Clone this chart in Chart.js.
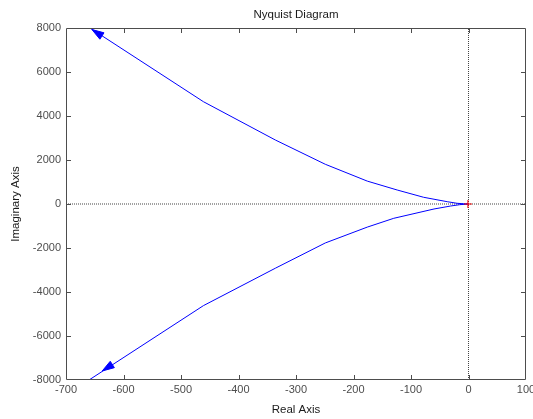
<!DOCTYPE html>
<html>
<head>
<meta charset="utf-8">
<script src="https://cdn.jsdelivr.net/npm/chart.js@4/dist/chart.umd.min.js"></script>
<style>
  html, body { margin: 0; padding: 0; background: #ffffff; }
  #wrap { width: 533px; height: 419px; }
</style>
</head>
<body>
<div id="wrap"><canvas id="c" width="533" height="419"></canvas></div>
<script>
// ---- data ----
const upperRe = [-680, -461, -336, -249, -176, -124, -78, -37, -20, -8, 0];
const upperIm = [8370, 4650, 2910, 1805, 1040, 636, 305, 105, 32, 10, 0];
const lowerRe = [-680, -461, -336, -249, -176, -130, -60, -31, -15, 0];
const lowerIm = [-8340, -4620, -2920, -1770, -1050, -650, -227, -91, -30, 0];
const criticalRe = [-1];
const criticalIm = [0];
// arrow tips and a point further along the branch giving its direction
const arrowTipRe = [-655, -637];
const arrowTipIm = [7932, -7590];
const arrowRefRe = [-461, -461];
const arrowRefIm = [4650, -4620];
const xTicks = [-700, -600, -500, -400, -300, -200, -100, 0, 100];
const yTicks = [-8000, -6000, -4000, -2000, 0, 2000, 4000, 6000, 8000];

const pts = (xs, ys) => xs.map((v, i) => ({x: v, y: ys[i]}));

const arrowPlugin = {
  id: 'arrows',
  afterDatasetsDraw(chart) {
    const {ctx, scales: {x, y}} = chart;
    ctx.save();
    ctx.fillStyle = '#0000ff';
    ctx.strokeStyle = '#0000ff';
    ctx.lineWidth = 1;
    for (let i = 0; i < arrowTipRe.length; i++) {
      const tx = x.getPixelForValue(arrowTipRe[i]), ty = y.getPixelForValue(arrowTipIm[i]);
      const rx = x.getPixelForValue(arrowRefRe[i]), ry = y.getPixelForValue(arrowRefIm[i]);
      let dx = tx - rx, dy = ty - ry;
      const len = Math.hypot(dx, dy); dx /= len; dy /= len;
      const L = 12, W = 3.8;
      const bx = tx - dx * L, by = ty - dy * L;
      ctx.beginPath();
      ctx.moveTo(tx, ty);
      ctx.lineTo(bx - dy * W, by + dx * W);
      ctx.lineTo(bx + dy * W, by - dx * W);
      ctx.closePath();
      ctx.fill();
      ctx.stroke();
    }
    ctx.restore();
  }
};

const framePlugin = {
  id: 'frame',
  afterDraw(chart) {
    const {ctx, chartArea: a, scales: {x, y}} = chart;
    ctx.save();
    ctx.strokeStyle = '#4d4d4d';
    ctx.lineWidth = 1;
    const L = a.left + 0.5, R = a.right - 0.5, T = a.top + 0.5, B = a.bottom - 0.5;
    ctx.beginPath();
    ctx.moveTo(L, T); ctx.lineTo(R, T); ctx.lineTo(R, B); ctx.lineTo(L, B); ctx.closePath();
    const tl = 4.5;
    x.ticks.forEach(t => {
      const p = Math.round(x.getPixelForValue(t.value)) + 0.5;
      if (p <= L + 1 || p >= R - 1) return;
      ctx.moveTo(p, B); ctx.lineTo(p, B - tl);
      ctx.moveTo(p, T); ctx.lineTo(p, T + tl);
    });
    y.ticks.forEach(t => {
      const p = Math.round(y.getPixelForValue(t.value)) + 0.5;
      if (p <= T + 1 || p >= B - 1) return;
      ctx.moveTo(L, p); ctx.lineTo(L + tl, p);
      ctx.moveTo(R, p); ctx.lineTo(R - tl, p);
    });
    ctx.stroke();
    ctx.restore();
  }
};

const FONT = "'Liberation Sans', Arial, Helvetica, sans-serif";

new Chart(document.getElementById('c'), {
  type: 'scatter',
  data: {
    datasets: [
      { data: pts(criticalRe, criticalIm), pointStyle: 'cross', pointRadius: 4,
        borderColor: '#ff0000', backgroundColor: '#ff0000', borderWidth: 1, order: 0 },
      { data: pts(upperRe, upperIm), showLine: true, borderColor: '#0000ff', borderWidth: 1,
        pointRadius: 0, tension: 0, order: 1 },
      { data: pts(lowerRe, lowerIm), showLine: true, borderColor: '#0000ff', borderWidth: 1,
        pointRadius: 0, tension: 0, order: 1 },
      { data: [{x: xTicks[0], y: 0}, {x: xTicks[xTicks.length - 1], y: 0}], showLine: true,
        borderColor: '#444444', borderWidth: 1, borderDash: [1, 1], pointRadius: 0, order: 2 },
      { data: [{x: 0, y: yTicks[0]}, {x: 0, y: yTicks[yTicks.length - 1]}], showLine: true,
        borderColor: '#444444', borderWidth: 1, borderDash: [1, 1], pointRadius: 0, order: 2 }
    ]
  },
  options: {
    responsive: false,
    animation: false,
    devicePixelRatio: 1,
    layout: { padding: { left: 0, right: 7, top: 0, bottom: 0 } },
    plugins: {
      legend: { display: false },
      tooltip: { enabled: false },
      title: {
        display: true, text: 'Nyquist Diagram', fullSize: false,
        color: '#1a1a1a', font: { family: FONT, size: 11.5, weight: 'normal' },
        padding: { top: 7.5, bottom: 6.7 }
      }
    },
    scales: {
      x: {
        type: 'linear', min: -700, max: 100,
        afterBuildTicks: s => { s.ticks = xTicks.map(v => ({value: v})); },
        afterFit: s => { s.height = 39; s.paddingLeft = 0; s.paddingRight = 0; },
        grid: { display: true, drawOnChartArea: false, drawTicks: false },
        border: { display: false },
        ticks: { color: '#4d4d4d', padding: 3, maxRotation: 0, autoSkip: false,
                 callback: v => String(v),
                 font: { family: FONT, size: 11 } },
        title: { display: true, text: 'Real Axis', color: '#1a1a1a',
                 font: { family: FONT, size: 11.5 }, padding: { top: 0, bottom: 2 } }
      },
      y: {
        type: 'linear', min: -8000, max: 8000,
        afterBuildTicks: s => { s.ticks = yTicks.map(v => ({value: v})); },
        afterFit: s => { s.width = 66; s.paddingTop = 0; s.paddingBottom = 0; },
        grid: { display: true, drawOnChartArea: false, drawTicks: false },
        border: { display: false },
        ticks: { color: '#4d4d4d', padding: 5, autoSkip: false,
                 callback: v => String(v),
                 font: { family: FONT, size: 11 } },
        title: { display: true, text: 'Imaginary Axis', color: '#1a1a1a',
                 font: { family: FONT, size: 11.5 }, padding: { top: 9, bottom: 0 } }
      }
    }
  },
  plugins: [arrowPlugin, framePlugin]
});
</script>
</body>
</html>
